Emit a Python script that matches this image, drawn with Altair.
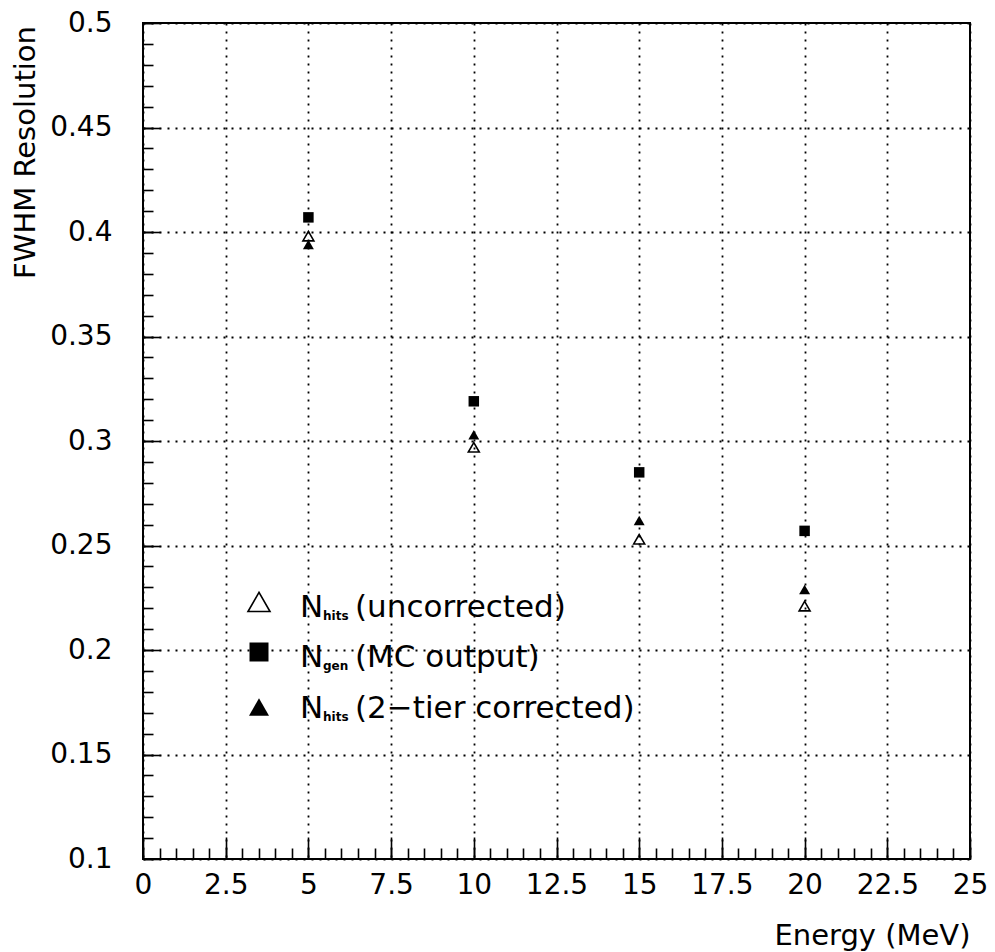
import altair as alt
import pandas as pd
import numpy as np

# ---------------- data ----------------
energy = [5, 10, 15, 20]
nhits_uncorrected = [0.398, 0.297, 0.253, 0.221]
ngen_mc_output = [0.407, 0.319, 0.285, 0.257]
nhits_2tier_corrected = [0.394, 0.303, 0.262, 0.229]

x_major = [0, 2.5, 5, 7.5, 10, 12.5, 15, 17.5, 20, 22.5, 25]
y_major = [0.1, 0.15, 0.2, 0.25, 0.3, 0.35, 0.4, 0.45, 0.5]
x_minor = [round(v, 2) for v in np.arange(0, 25.01, 0.5)]
y_minor = [round(v, 3) for v in np.arange(0.1, 0.5001, 0.01)]

legend_subs = ["hits", "gen", "hits"]
legend_texts = ["(uncorrected)", "(MC output)", "(2\u2212tier corrected)"]

FONT = "DejaVu Sans"
W, H = 827, 836

df_unc = pd.DataFrame({"energy": energy, "res": nhits_uncorrected})
df_gen = pd.DataFrame({"energy": energy, "res": ngen_mc_output})
df_cor = pd.DataFrame({"energy": energy, "res": nhits_2tier_corrected})

xscale = alt.Scale(domain=[0, 25], nice=False, zero=False)
yscale = alt.Scale(domain=[0.1, 0.5], nice=False, zero=False)

grid_kw = dict(grid=True, gridColor="black", gridDash=[2, 6], gridWidth=1.8, gridOpacity=1)

x_label_axis = alt.Axis(
    orient="bottom", values=x_major, labelExpr="toString(datum.value)",
    ticks=False, tickSize=0, domain=False,
    labelFont=FONT, labelFontSize=28, labelColor="black", labelPadding=12,
    labelFlush=False, labelOverlap=False,
    title="Energy (MeV)", titleFont=FONT, titleFontSize=29, titleFontWeight="normal",
    titleColor="black", titleX=W, titleY=76, titleAlign="right", titleBaseline="middle",
    titleAngle=0, **grid_kw)
y_label_axis = alt.Axis(
    orient="left", values=y_major, labelExpr="toString(datum.value)",
    ticks=False, tickSize=0, domain=False,
    labelFont=FONT, labelFontSize=28, labelColor="black", labelPadding=31,
    labelFlush=False, labelOverlap=False,
    title="FWHM Resolution", titleFont=FONT, titleFontSize=29, titleFontWeight="normal",
    titleColor="black", titleX=-118, titleY=129, titleAlign="center",
    titleBaseline="middle", titleAngle=270, **grid_kw)


def tick_axis(orient, offset, values, size):
    return alt.Axis(orient=orient, offset=offset, values=values, labels=False,
                    domain=False, grid=False, ticks=True, tickSize=size,
                    tickColor="black", tickWidth=1.6, title=None)


def enc(xaxis, yaxis):
    return dict(x=alt.X("energy:Q", scale=xscale, axis=xaxis),
                y=alt.Y("res:Q", scale=yscale, axis=yaxis))


layers = []
# main layer carrying labels + grid
layers.append(alt.Chart(df_gen).mark_square(size=110, color="black", opacity=1)
              .encode(**enc(x_label_axis, y_label_axis)))
# inward minor ticks
layers.append(alt.Chart(df_gen).mark_point(opacity=0)
              .encode(**enc(tick_axis("top", -H, x_minor, 11),
                            tick_axis("right", -W, y_minor, 10))))
# inward major ticks
layers.append(alt.Chart(df_gen).mark_point(opacity=0)
              .encode(**enc(tick_axis("top", -H, x_major, 22),
                            tick_axis("right", -W, y_major, 17))))
# other series
layers.append(alt.Chart(df_cor).mark_point(shape="triangle-up", filled=True, size=120,
                                           color="black", opacity=1)
              .encode(**enc(None, None)))
layers.append(alt.Chart(df_unc).mark_point(shape="triangle-up", filled=False, size=120,
                                           color="black", strokeWidth=1.6, opacity=1)
              .encode(**enc(None, None)))

# ---------------- manual legend (subscripts need separate text) ----------------
one = pd.DataFrame({"a": [0]})
sym_y = [579, 629, 684]
base_y = [594, 644, 695]
symbols = [
    dict(kind="point", shape="triangle-up", filled=False, size=484, strokeWidth=1.6),
    dict(kind="square", size=361),
    dict(kind="point", shape="triangle-up", filled=True, size=400),
]
for i in range(3):
    s = symbols[i]
    if s["kind"] == "square":
        m = alt.Chart(one).mark_square(size=s["size"], color="black", opacity=1)
    else:
        kw = dict(shape=s["shape"], filled=s["filled"], size=s["size"], color="black", opacity=1)
        if "strokeWidth" in s:
            kw["strokeWidth"] = s["strokeWidth"]
        m = alt.Chart(one).mark_point(**kw)
    layers.append(m.encode(x=alt.value(116), y=alt.value(sym_y[i])))
    layers.append(alt.Chart(one).mark_text(text="N", font=FONT, fontSize=31, align="left",
                                           baseline="alphabetic", color="black")
                  .encode(x=alt.value(157), y=alt.value(base_y[i])))
    layers.append(alt.Chart(one).mark_text(text=legend_subs[i], font=FONT, fontSize=12,
                                           fontWeight="bold", align="left",
                                           baseline="alphabetic", color="black")
                  .encode(x=alt.value(180), y=alt.value(base_y[i] + 3)))
    layers.append(alt.Chart(one).mark_text(text=legend_texts[i], font=FONT, fontSize=31,
                                           align="left", baseline="alphabetic", color="black")
                  .encode(x=alt.value(212), y=alt.value(base_y[i])))

chart = (
    alt.layer(*layers)
    .resolve_axis(x="independent", y="independent")
    .properties(width=W, height=H,
                autosize=alt.AutoSizeParams(type="none"),
                padding={"left": 143, "top": 23, "right": 25, "bottom": 93},
                background="white")
    .configure_view(stroke="black", strokeWidth=2)
)

chart.save("out.html", embed_options={"renderer": "svg", "actions": False})
